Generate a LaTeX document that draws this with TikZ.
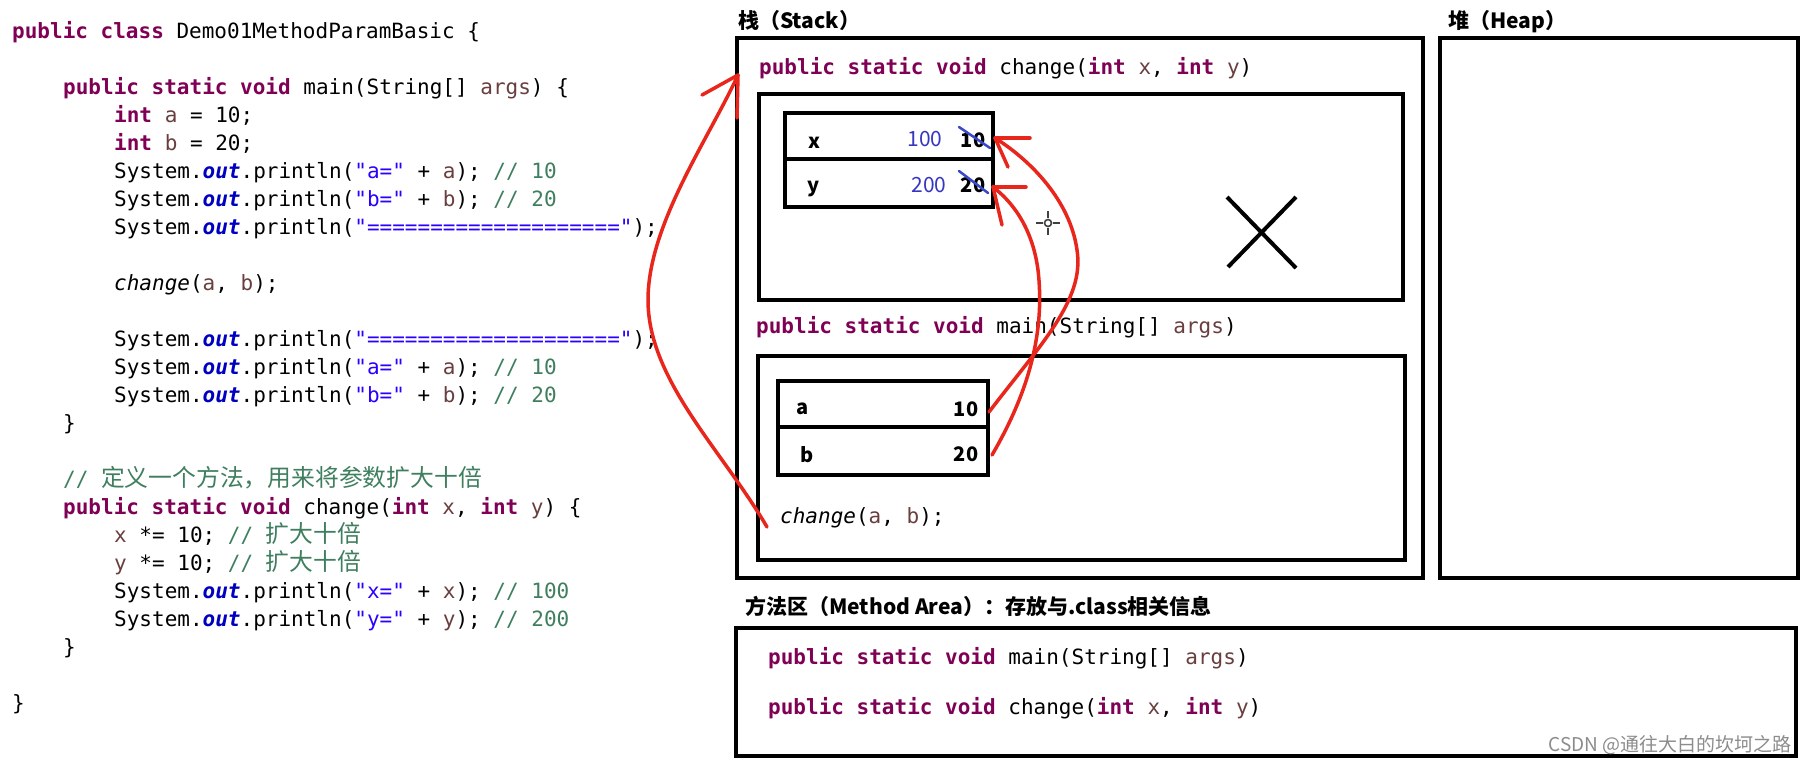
\documentclass[tikz,border=0pt]{standalone}
\usepackage{fontspec}
\setmainfont{DejaVu Sans}
\newfontfamily\codefont{DejaVu Sans Mono}
\newfontfamily\cjk{Noto Sans CJK SC}
\definecolor{kwc}{HTML}{7F0055}
\definecolor{varc}{HTML}{6A3E3E}
\definecolor{strc}{HTML}{2A00FF}
\definecolor{comc}{HTML}{3F7F5F}
\definecolor{outc}{HTML}{0000C0}
\definecolor{redc}{HTML}{E8261C}
\definecolor{numblue}{HTML}{3636C0}
\definecolor{strikeblue}{HTML}{3848C8}
\definecolor{wmgray}{HTML}{8C8C8C}
\newcommand\jkw[1]{{\bfseries\color{kwc}#1}}
\newcommand\jvar[1]{{\color{varc}#1}}
\newcommand\jstr[1]{{\color{strc}#1}}
\newcommand\jcom[1]{{\color{comc}#1}}
\newcommand\jout{{\bfseries\itshape\color{outc}out}}
\newcommand\jcall[1]{{\itshape #1}}
\newcommand\jcjk[1]{{\cjk\fontsize{23.8}{27}\selectfont #1}}
\begin{document}
\begin{tikzpicture}[x=1pt,y=-1pt,
  code/.style={anchor=base west, inner sep=0pt, font=\codefont\fontsize{21}{25}\selectfont},
  head/.style={anchor=base west, inner sep=0pt, font=\cjk\bfseries\fontsize{21}{25}\selectfont},
  box/.style={draw=black, line width=4pt},
  cell/.style={anchor=base, inner sep=0pt, font=\cjk\bfseries\fontsize{20}{24}\selectfont},
  newval/.style={anchor=base, inner sep=0pt, text=numblue, font=\cjk\fontsize{21}{24}\selectfont},
  redline/.style={draw=redc, line width=3.5pt, line cap=round, line join=round},
  strike/.style={draw=strikeblue, line width=2.5pt, line cap=round},
  crossline/.style={draw=black, line width=4pt}]
\useasboundingbox[fill=white] (0,0) rectangle (1809,764);

% ---------------- source code (left) ----------------
\node[code] (c0)  at (12,38)   {\jkw{public class} Demo01MethodParamBasic \{};
\node[code] (c2)  at (63,94)   {\jkw{public static void} main(String[] \jvar{args}) \{};
\node[code] (c3)  at (114,122) {\jkw{int} \jvar{a} = 10;};
\node[code] (c4)  at (114,150) {\jkw{int} \jvar{b} = 20;};
\node[code] (c5)  at (114,178) {System.\jout.println(\jstr{"a="} + \jvar{a}); \jcom{// 10}};
\node[code] (c6)  at (114,206) {System.\jout.println(\jstr{"b="} + \jvar{b}); \jcom{// 20}};
\node[code] (c7)  at (114,234) {System.\jout.println(\jstr{"===================="});};
\node[code] (c9)  at (114,290) {\jcall{change}(\jvar{a}, \jvar{b});};
\node[code] (c11) at (114,346) {System.\jout.println(\jstr{"===================="});};
\node[code] (c12) at (114,374) {System.\jout.println(\jstr{"a="} + \jvar{a}); \jcom{// 10}};
\node[code] (c13) at (114,402) {System.\jout.println(\jstr{"b="} + \jvar{b}); \jcom{// 20}};
\node[code] (c14) at (63,430)  {\}};
\node[code] (c16) at (63,486)  {\jcom{// \jcjk{定义一个方法，用来将参数扩大十倍}}};
\node[code] (c17) at (63,514)  {\jkw{public static void} change(\jkw{int} \jvar{x}, \jkw{int} \jvar{y}) \{};
\node[code] (c18) at (114,542) {\jvar{x} *= 10; \jcom{// \jcjk{扩大十倍}}};
\node[code] (c19) at (114,570) {\jvar{y} *= 10; \jcom{// \jcjk{扩大十倍}}};
\node[code] (c20) at (114,598) {System.\jout.println(\jstr{"x="} + \jvar{x}); \jcom{// 100}};
\node[code] (c21) at (114,626) {System.\jout.println(\jstr{"y="} + \jvar{y}); \jcom{// 200}};
\node[code] (c22) at (63,654)  {\}};
\node[code] (c24) at (12,710)  {\}};

% ---------------- stack ----------------
\node[head] (stackhead) at (738,28) {栈（Stack）};
\draw[box] (737,38) rectangle (1423,578);

\node[code] (chghead) at (759,74) {\jkw{public static void} change(\jkw{int} \jvar{x}, \jkw{int} \jvar{y})};
\draw[box] (759,94) rectangle (1403,300);
\draw[box] (785,113) rectangle (993,207);
\draw[box] (785,159) -- (993,159);
\node[cell] (xlab) at (814,148) {x};
\node[cell] (ylab) at (814,192) {y};
\node[newval] (x100) at (925,146) {100};
\node[newval] (y200) at (929,192) {200};
\node[cell] (x10) at (973,147) {10};
\node[cell] (y20) at (973,192) {20};
\draw[strike] (959,127) -- (990,148);
\draw[strike] (959,171) -- (988,193);

% big cross
\draw[crossline] (1227,197) -- (1296,268);
\draw[crossline] (1296,197) -- (1228,267);

% mouse cursor
\begin{scope}[draw=black!75, line width=1.6pt]
  \draw (1048,223) circle (3.5);
  \draw (1036,223) -- (1043,223);
  \draw (1053,223) -- (1060,223);
  \draw (1048,211) -- (1048,218);
  \draw (1048,228) -- (1048,235);
\end{scope}

\node[code] (mainhead) at (756,333) {\jkw{public static void} main(String[] \jvar{args})};
\draw[box] (758,356) rectangle (1405,560);
\draw[box] (778,381) rectangle (988,475);
\draw[box] (778,427) -- (988,427);
\node[cell] (alab) at (803,414) {a};
\node[cell] (blab) at (807,462) {b};
\node[cell] (a10) at (966,416) {10};
\node[cell] (b20) at (966,461) {20};
\node[code] (callnode) at (780,523) {\jcall{change}(\jvar{a}, \jvar{b});};

% ---------------- heap ----------------
\node[head] (heaphead) at (1448,28) {堆（Heap）};
\draw[box] (1440,38) rectangle (1798,578);

% ---------------- method area ----------------
\node[head] (mahead) at (745,614) {方法区（Method Area）：存放与.class相关信息};
\draw[box] (736,628) rectangle (1796,756);
\node[code] (mamain) at (768,664) {\jkw{public static void} main(String[] \jvar{args})};
\node[code] (machg) at (768,714) {\jkw{public static void} change(\jkw{int} \jvar{x}, \jkw{int} \jvar{y})};
\node[anchor=base east, inner sep=0pt, text=wmgray, font=\cjk\fontsize{19}{22}\selectfont] (wm) at (1792,751) {CSDN @通往大白的坎坷之路};

% ---------------- red arrows ----------------
\coordinate (callpt) at (767,527);
\coordinate (chgtip) at (738,75);
\coordinate (aout) at (989,412);
\coordinate (bout) at (992,455);
\coordinate (xtip) at (995,138);
\coordinate (ytip) at (993,187);

\draw[redline] (callpt) .. controls (722,450) and (648,380) .. (648,300)
               .. controls (648,225) and (708,140) .. (chgtip);
\draw[redline] (chgtip) -- (702,95);
\draw[redline] (chgtip) -- (737,118);

\draw[redline] (aout) .. controls (1040,345) and (1085,300) .. (1077,250)
               .. controls (1070,200) and (1030,160) .. (xtip);
\draw[redline] (xtip) -- (1030,138);
\draw[redline] (xtip) -- (1008,167);

\draw[redline] (bout) .. controls (1030,390) and (1045,330) .. (1038,270)
               .. controls (1032,225) and (1010,200) .. (ytip);
\draw[redline] (ytip) -- (1026,187);
\draw[redline] (ytip) -- (1002,225);
\end{tikzpicture}
\end{document}
